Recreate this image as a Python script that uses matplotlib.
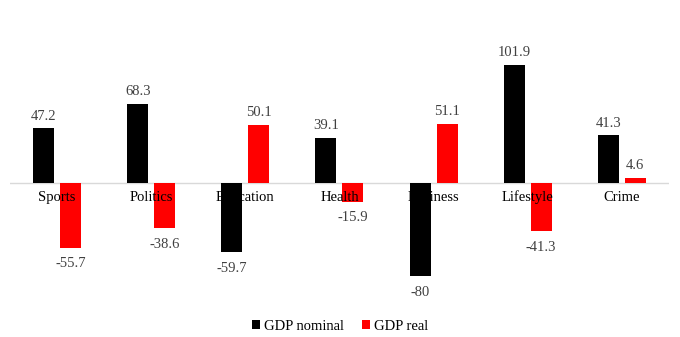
import matplotlib.pyplot as plt
import numpy as np

categories = ["Sports", "Politics", "Education", "Health", "Business", "Lifestyle", "Crime"]
gdp_nominal = [47.2, 68.3, -59.7, 39.1, -80, 101.9, 41.3]
gdp_real = [-55.7, -38.6, 50.1, -15.9, 51.1, -41.3, 4.6]

plt.rcParams['font.family'] = ['Liberation Serif', 'DejaVu Serif']

fig = plt.figure(figsize=(6.8, 3.37), dpi=100)
ax = fig.add_axes([0.0147, 0.1128, 0.969, 0.7567])

x = np.arange(len(categories))
w = 0.223
off = 0.143
b1 = ax.bar(x - off, gdp_nominal, w, color="black", label="GDP nominal", zorder=2)
b2 = ax.bar(x + off, gdp_real, w, color="#ff0000", label="GDP real", zorder=2)

for bars, vals in [(b1, gdp_nominal), (b2, gdp_real)]:
    for b, v in zip(bars, vals):
        lbl = f"{v:g}"
        if v >= 0:
            ax.annotate(lbl, (b.get_x() + b.get_width() / 2, v), xytext=(0, 4),
                        textcoords="offset points", ha="center", va="bottom",
                        fontsize=10.5, color="#404040")
        else:
            ax.annotate(lbl, (b.get_x() + b.get_width() / 2, v), xytext=(0, -7),
                        textcoords="offset points", ha="center", va="top",
                        fontsize=10.5, color="#404040")

# category names sit just under the zero line, over the bars
for xi, c in zip(x, categories):
    ax.annotate(c, (xi, 0), xytext=(0, -5.5), textcoords="offset points",
                ha="center", va="top", fontsize=10.5, color="black", zorder=3)

ax.axhline(0, color="#d9d9d9", lw=1, zorder=1)
ax.set_xlim(-0.5, len(categories) - 0.5)
ax.set_ylim(-100, 120)
ax.axis("off")

fig.legend(handles=[b1, b2], loc="center", bbox_to_anchor=(0.5, 0.032), ncol=2,
           frameon=False, fontsize=10.5, handlelength=0.6, handleheight=0.6,
           handletextpad=0.25, columnspacing=1.2)

fig.savefig("out.png", dpi=100)
